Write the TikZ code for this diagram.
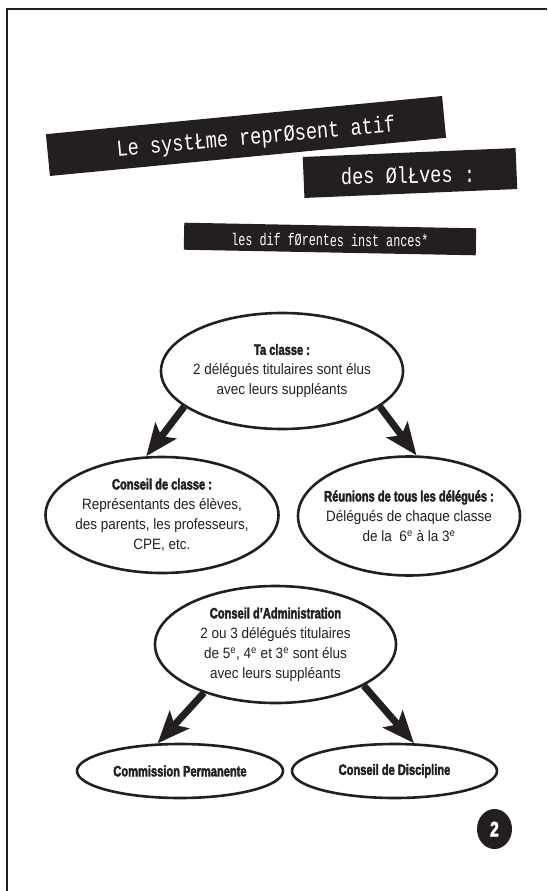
\documentclass[tikz,border=0pt]{standalone}
\usepackage{fontspec}
\newfontfamily\bodyfont[FakeStretch=0.9]{Liberation Sans}
\newfontfamily\headfont[FakeStretch=0.74,FakeBold=2.5]{Liberation Sans Bold}
\newfontfamily\typefont[FakeStretch=0.81]{Liberation Mono}
\newfontfamily\typenarrow[FakeStretch=0.69]{Liberation Mono}
\usetikzlibrary{shapes.geometric, arrows.meta}
\definecolor{ink}{HTML}{231F20}
\newcommand{\hd}[1]{{\headfont #1}}

\begin{document}
\begin{tikzpicture}[x=1pt,y=-1pt]
	\tikzset{band/.style={fill=ink, inner sep=0}}
	\tikzset{bandtext/.style={text=white, inner sep=0, font=\typefont\fontsize{23}{25}\selectfont}}
	\tikzset{bubble/.style={ellipse, draw=ink, line width=2.6pt, inner sep=-12pt, align=center, text=ink, font=\bodyfont\fontsize{15}{20}\selectfont}}
	\tikzset{bigarrow/.style={draw=ink, line width=7pt, -{Stealth[length=32pt,width=26pt,inset=7pt]}}}
		\useasboundingbox (0,0) rectangle (547,891);
		\draw[ink, line width=2.5pt] (547,9) -| (7,891);
		% title
		\node[band, minimum width=398pt, minimum height=42pt, rotate=5.5] (band1) at (246,136) {};
		\node[band, minimum width=213pt, minimum height=41pt, rotate=2.4] (band2) at (410,173) {};
		\node[band, minimum width=292pt, minimum height=27pt, rotate=-1.1] (band3) at (330,239) {};
		\node[bandtext, rotate=5] (title1) at (256,138) {Le systŁme reprØsent atif};
		\node[bandtext, rotate=1] (title2) at (408,175) {des ØlŁves :};
		\node[bandtext, rotate=-0.5, font=\typenarrow\fontsize{17}{19}\selectfont] (title3) at (330,240) {les dif fØrentes inst ances*};
		% bubbles
		\node[bubble, minimum width=242pt, minimum height=116pt] (ta) at (282,371) {\hd{Ta classe :}\\2 délégués titulaires sont élus\\avec leurs suppléants};
		\node[bubble, minimum width=233pt, minimum height=116pt] (cc) at (162,515) {\hd{Conseil de classe :}\\Représentants des élèves,\\des parents, les professeurs,\\CPE, etc.};
		\node[bubble, minimum width=222pt, minimum height=119pt] (ru) at (409,516) {\hd{Réunions de tous les délégués :}\\Délégués de chaque classe\\de la\ \ 6\textsuperscript{e} à la 3\textsuperscript{e}};
		\node[bubble, minimum width=241pt, minimum height=117pt] (ca) at (275.5,644.5) {\hd{Conseil d’Administration}\\2 ou 3 délégués titulaires\\de 5\textsuperscript{e}, 4\textsuperscript{e} et 3\textsuperscript{e} sont élus\\avec leurs suppléants};
		\node[bubble, minimum width=206pt, minimum height=54pt] (cp) at (180,771) {\hd{Commission Permanente}};
		\node[bubble, minimum width=205pt, minimum height=54pt] (cd) at (394.5,771) {\hd{Conseil de Discipline}};
		\foreach \from/\to in {ta.200/cc.105, ta.-20/ru.83, ca.214/cp.129, ca.-25/cd.55}
			{\draw[bigarrow] (\from) -- (\to);}
		% page number
		\node[ellipse, fill=ink, minimum width=35pt, minimum height=40pt, inner sep=0, text=white, font=\headfont\fontsize{21}{21}\selectfont] (page) at (494.5,829) {2};
\end{tikzpicture}
\end{document}
